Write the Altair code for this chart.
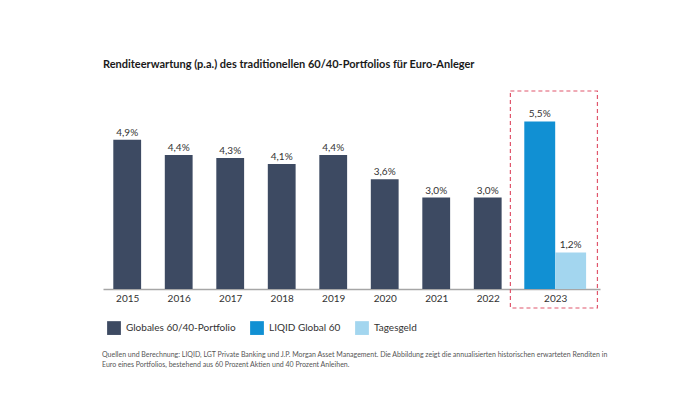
import altair as alt
import pandas as pd

years = ["2015", "2016", "2017", "2018", "2019", "2020", "2021", "2022"]
portfolio = [4.9, 4.4, 4.3, 4.1, 4.4, 3.6, 3.0, 3.0]
year_2023 = "2023"
liqid_2023 = 5.5
tagesgeld_2023 = 1.2
series = ["Globales 60/40-Portfolio", "LIQID Global 60", "Tagesgeld"]
colors = ["#3d4a62", "#1190d3", "#a3d6ef"]

title = "Renditeerwartung (p.a.) des traditionellen 60/40-Portfolios für Euro-Anleger"
note = ["Quellen und Berechnung: LIQID, LGT Private Banking und J.P. Morgan Asset Management. Die Abbildung zeigt die annualisierten historischen erwarteten Renditen in",
        "Euro eines Portfolios, bestehend aus 60 Prozent Aktien und 40 Prozent Anleihen."]

def fmt(v):
    return f"{v:.1f}".replace(".", ",") + "%"

half = 0.27
c23 = 8.31
w23 = 0.60
rows = []
for i, (yr, v) in enumerate(zip(years, portfolio)):
    rows.append(dict(series=series[0], x=i - half, x2=i + half, xm=i, v=v, label=fmt(v)))
rows.append(dict(series=series[1], x=c23 - w23, x2=c23, xm=c23 - w23 / 2, v=liqid_2023, label=fmt(liqid_2023)))
rows.append(dict(series=series[2], x=c23, x2=c23 + w23, xm=c23 + w23 / 2, v=tagesgeld_2023, label=fmt(tagesgeld_2023)))
df = pd.DataFrame(rows)

FONT = "Lato"
xscale = alt.Scale(domain=[-0.47, 9.18], nice=False, zero=False)
yscale = alt.Scale(domain=[0, 6.5], nice=False)

label_expr = "datum.value > 7.5 ? '" + year_2023 + "' : toString(2015 + round(datum.value))"

base = alt.Chart(df)
bars = base.mark_rect().encode(
    x=alt.X("x:Q", scale=xscale, axis=alt.Axis(
        values=list(range(len(years))) + [c23], labelExpr=label_expr, title=None,
        grid=False, ticks=False, domainColor="#a6a6a6", domainWidth=1.5,
        labelFont=FONT, labelFontSize=10, labelColor="#333333", labelPadding=4)),
    x2="x2:Q",
    y=alt.Y("v:Q", scale=yscale, axis=None),
    y2=alt.datum(0),
    color=alt.Color("series:N", scale=alt.Scale(domain=series, range=colors),
                    legend=alt.Legend(title=None, orient="none", direction="horizontal",
                                      legendX=4, legendY=230, symbolType="square",
                                      symbolSize=190, symbolStrokeWidth=0,
                                      labelFont=FONT, labelFontSize=10, labelColor="#333333",
                                      columnPadding=14, labelOffset=5)),
)
texts = base.mark_text(dy=-7, font=FONT, fontSize=10, color="#333333").encode(
    x=alt.X("xm:Q", scale=xscale), y=alt.Y("v:Q", scale=yscale, axis=None), text="label:N")

box_df = pd.DataFrame({"x": [c23 - w23 - 0.27], "x2": [9.13]})
box = alt.Chart(box_df).mark_rect(fill=None, stroke="#e0566c", strokeDash=[4, 3], strokeWidth=1.2).encode(
    x=alt.X("x:Q", scale=xscale), x2="x2:Q", y=alt.value(0), y2=alt.value(217))

note_df = pd.DataFrame({"t": note, "i": [0, 1]})
notes = alt.Chart(note_df).mark_text(align="left", baseline="middle", font=FONT, fontSize=7, color="#555555").encode(
    x=alt.value(-1), y=alt.Y("i:Q", scale=alt.Scale(domain=[0, 1], range=[264, 274]), axis=None), text="t:N")

chart = alt.layer(bars, texts, box, notes).resolve_scale(y="independent").properties(
    width=497, height=198,
    title=alt.TitleParams(title, anchor="start", font=FONT, fontSize=11, fontWeight="bold",
                          color="#1a1a1a", offset=20, frame="group"),
    autosize=alt.AutoSizeParams(type="none"),
    padding={"left": 95, "top": 83, "right": 90, "bottom": 90},
).configure_view(stroke=None)

chart.save("out.html", embed_options={"renderer": "svg", "actions": False})
